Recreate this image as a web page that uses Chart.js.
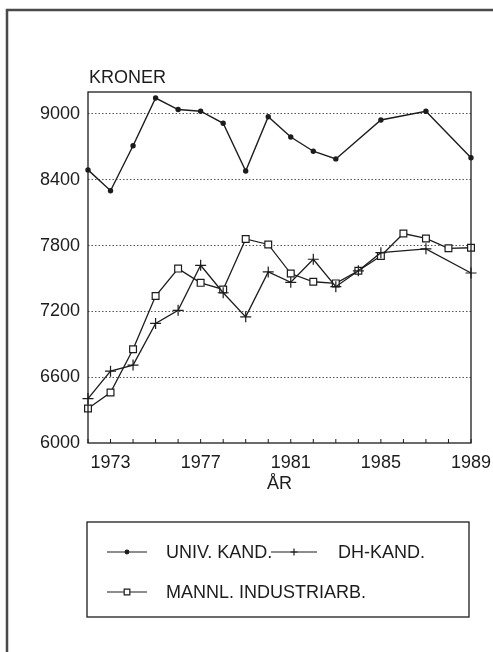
<!DOCTYPE html>
<html>
<head>
<meta charset="utf-8">
<script src="https://cdn.jsdelivr.net/npm/chart.js@4"></script>
<style>
    html, body { margin: 0; padding: 0; background: #fff; }
    #chart-container { width: 493px; height: 652px; position: relative; }
</style>
</head>
<body>
<div id="chart-container"><canvas id="myChart"></canvas></div>
<script>
// data (null = no point that year, line just passes by)
const years = [1972, 1973, 1974, 1975, 1976, 1977, 1978, 1979, 1980, 1981, 1982, 1983, 1984, 1985, 1986, 1987, 1988, 1989];
const univKand = [8490, 8300, 8710, 9145, 9040, 9025, 8915, 8480, 8975, 8790, 8660, 8590, null, 8945, null, 9025, null, 8600];
const dhKand = [6405, 6655, 6710, 7090, 7210, 7620, 7370, 7150, 7560, 7465, 7675, 7425, 7570, 7735, null, 7770, null, 7550];
const mannlInd = [6315, 6460, 6855, 7340, 7590, 7460, 7400, 7860, 7810, 7545, 7470, 7455, 7570, 7705, 7910, 7865, 7775, 7780];
const seriesNames = ["UNIV. KAND.", "DH-KAND.", "MANNL. INDUSTRIARB."];
const yTicks = [6000, 6600, 7200, 7800, 8400, 9000];
const xLabels = [1973, 1977, 1981, 1985, 1989];

const ink = "#1c1c1c";
const font = "Liberation Sans, Arial, sans-serif";

const toPoints = (vals) => vals.map((v, i) => ({ x: years[i], y: v }));

// frame, plot border, inward x ticks, titles and the boxed legend
const decorPlugin = {
    id: "decor",
    afterDraw: (chart) => {
        const ctx = chart.ctx;
        const area = chart.chartArea;
        const xScale = chart.scales.x;
        ctx.save();

        // page frame (top + left only)
        ctx.strokeStyle = "#4a4a4a";
        ctx.lineWidth = 2.5;
        ctx.beginPath();
        ctx.moveTo(7, 652);
        ctx.lineTo(7, 10);
        ctx.lineTo(493, 10);
        ctx.stroke();

        // plot box
        ctx.strokeStyle = ink;
        ctx.lineWidth = 1.3;
        ctx.strokeRect(area.left, area.top, area.right - area.left, area.bottom - area.top);

        // small ticks pointing up into the plot
        ctx.lineWidth = 1;
        xScale.ticks.forEach((t) => {
            const px = xScale.getPixelForValue(t.value);
            ctx.beginPath();
            ctx.moveTo(px, area.bottom);
            ctx.lineTo(px, area.bottom - 4);
            ctx.stroke();
        });

        ctx.fillStyle = ink;
        ctx.font = "18px " + font;
        ctx.textBaseline = "middle";
        ctx.textAlign = "left";
        ctx.fillText("KRONER", area.left + 1, 78);
        ctx.textAlign = "center";
        ctx.fillText("ÅR", (area.left + area.right) / 2, 484);

        // legend box
        ctx.lineWidth = 1.3;
        ctx.strokeRect(87, 522, 382, 95);

        const ds = chart.data.datasets;
        const drawSample = (d, x1, x2, y) => {
            ctx.strokeStyle = ink;
            ctx.lineWidth = 1.2;
            ctx.beginPath();
            ctx.moveTo(x1, y);
            ctx.lineTo(x2, y);
            ctx.stroke();
            ctx.fillStyle = d.pointBackgroundColor;
            Chart.helpers.drawPoint(ctx, {
                pointStyle: d.pointStyle,
                radius: d.legendRadius,
                borderWidth: 1,
                rotation: 0,
            }, (x1 + x2) / 2, y);
        };
        drawSample(ds[0], 107, 147, 552);
        drawSample(ds[1], 271, 317, 552);
        drawSample(ds[2], 107, 147, 592);

        ctx.fillStyle = ink;
        ctx.font = "18px " + font;
        ctx.textAlign = "left";
        ctx.fillText(ds[0].label, 166, 553);
        ctx.fillText(ds[1].label, 338, 553);
        ctx.fillText(ds[2].label, 166, 593);

        ctx.restore();
    },
};

const data = {
    datasets: [
        {
            label: seriesNames[0],
            data: toPoints(univKand),
            borderColor: ink,
            borderWidth: 1.4,
            pointStyle: "circle",
            pointRadius: 2,
            pointBackgroundColor: ink,
            pointBorderColor: ink,
            legendRadius: 1.8,
        },
        {
            label: seriesNames[1],
            data: toPoints(dhKand),
            borderColor: ink,
            borderWidth: 1.3,
            pointStyle: "cross",
            pointRadius: 5.5,
            pointBorderWidth: 1.2,
            pointBackgroundColor: ink,
            pointBorderColor: ink,
            legendRadius: 3.5,
        },
        {
            label: seriesNames[2],
            data: toPoints(mannlInd),
            borderColor: ink,
            borderWidth: 1.3,
            pointStyle: "rect",
            pointRadius: 4.8,
            pointBorderWidth: 1.2,
            pointBackgroundColor: "#fff",
            pointBorderColor: ink,
            legendRadius: 4,
        },
    ],
};

const config = {
    type: "line",
    data: data,
    plugins: [decorPlugin],
    options: {
        responsive: false,
        animation: false,
        devicePixelRatio: 1,
        spanGaps: true,
        clip: false,
        layout: {
            padding: { left: 0, top: 92, right: 22, bottom: 169 },
        },
        plugins: {
            legend: { display: false },
            tooltip: { enabled: false },
        },
        elements: {
            line: { tension: 0 },
        },
        scales: {
            x: {
                type: "linear",
                min: 1972,
                max: 1989,
                afterBuildTicks: (scale) => {
                    scale.ticks = years.map((y) => ({ value: y }));
                },
                afterFit: (scale) => {
                    scale.height = 40;
                    scale.paddingLeft = 0;
                    scale.paddingRight = 0;
                },
                grid: { display: false, drawTicks: false },
                border: { display: false },
                ticks: {
                    autoSkip: false,
                    maxRotation: 0,
                    padding: 9,
                    color: ink,
                    font: { family: font, size: 18 },
                    callback: (v) => (xLabels.includes(v) ? String(v) : ""),
                },
            },
            y: {
                type: "linear",
                min: 6000,
                max: 9200,
                afterBuildTicks: (scale) => {
                    scale.ticks = yTicks.map((v) => ({ value: v }));
                },
                afterFit: (scale) => {
                    scale.width = 88;
                    scale.paddingTop = 0;
                    scale.paddingBottom = 0;
                },
                grid: {
                    drawTicks: false,
                    color: (c) => (c.tick && c.tick.value === 6000 ? "rgba(0,0,0,0)" : "#555"),
                    lineWidth: 1,
                },
                border: { display: false, dash: [1.5, 2] },
                ticks: {
                    padding: 8,
                    color: ink,
                    font: { family: font, size: 18 },
                    callback: (v) => String(v),
                },
            },
        },
    },
};

const canvas = document.getElementById("myChart");
canvas.width = 493;
canvas.height = 652;
const myChart = new Chart(canvas, config);
</script>
</body>
</html>
